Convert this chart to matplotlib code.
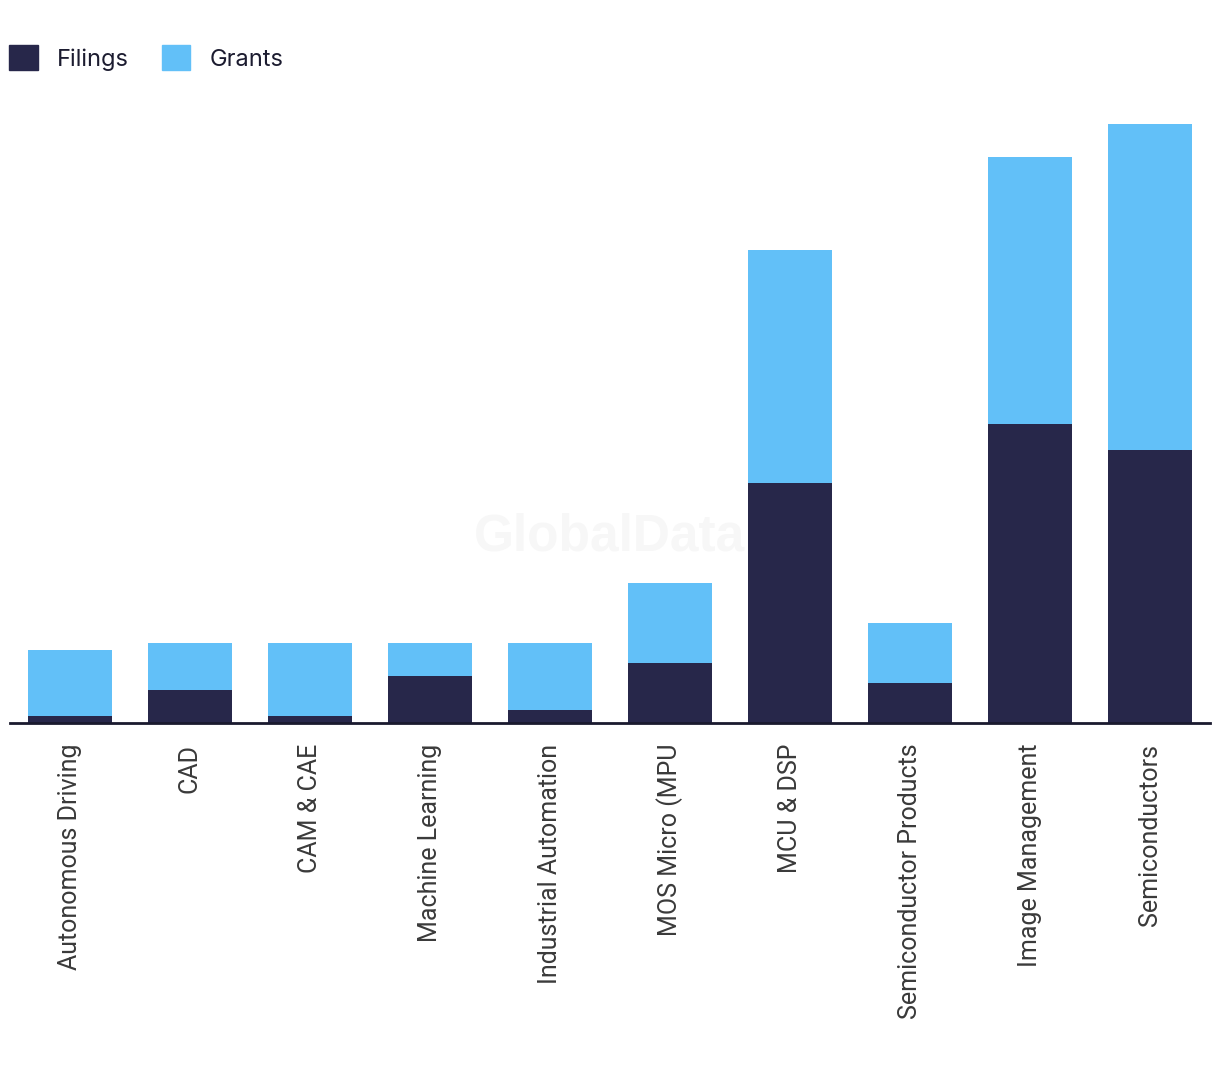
import matplotlib
matplotlib.use("Agg")
import matplotlib.pyplot as plt
from matplotlib.patches import Patch

# ── Data ──────────────────────────────────────────────────────────────────────
categories = [
    "Autonomous Driving", "CAD", "CAM & CAE", "Machine Learning",
    "Industrial Automation", "MOS Micro (MPU", "MCU & DSP",
    "Semiconductor Products", "Image Management", "Semiconductors",
]
filings = [1, 5, 1, 7, 2, 9, 36, 6, 45, 41]
grants = [10, 7, 11, 5, 10, 12, 35, 9, 40, 49]

NAVY = "#27274a"
BLUE = "#62c0f8"

W, H = 1220, 1074
fig = plt.figure(figsize=(W / 100, H / 100), dpi=100)
# axes: x 10..1210, baseline at y=723, top at y=124 (value 90)
ax = fig.add_axes([10 / W, 1 - 723 / H, 1200 / W, 599 / H])

x = range(len(categories))
ax.bar(x, filings, width=0.7, color=NAVY, zorder=2)
ax.bar(x, grants, width=0.7, bottom=filings, color=BLUE, zorder=2)

ax.set_xlim(-0.5, len(categories) - 0.5)
ax.set_ylim(0, 90)
for s in ["top", "right", "left"]:
    ax.spines[s].set_visible(False)
ax.spines["bottom"].set_color("#1a1a2e")
ax.spines["bottom"].set_linewidth(2)
ax.set_yticks([])
ax.set_xticks(list(x))
ax.set_xticklabels(categories, rotation=90, fontsize=18, color="#3a3a3a",
                   family=["Roboto", "DejaVu Sans"])
ax.tick_params(axis="x", length=0, pad=15)

# watermark
fig.text(610 / W, 1 - 537 / H, "GlobalData", ha="center", va="center",
         fontsize=37, fontweight="bold", color="#f7f7f7", zorder=0,
         family=["Liberation Sans", "DejaVu Sans"])

handles = [Patch(color=NAVY, label="Filings"), Patch(color=BLUE, label="Grants")]
fig.legend(handles=handles, loc="upper left", bbox_to_anchor=(0, 1 - 36 / H),
           ncol=2, frameon=False, handlelength=1.2, handleheight=1.2,
           handletextpad=0.8, columnspacing=1.42, borderaxespad=0,
           labelcolor="#1c1c30", prop={"family": ["Inter", "DejaVu Sans"], "size": 17})

fig.savefig("out.png", dpi=100)
